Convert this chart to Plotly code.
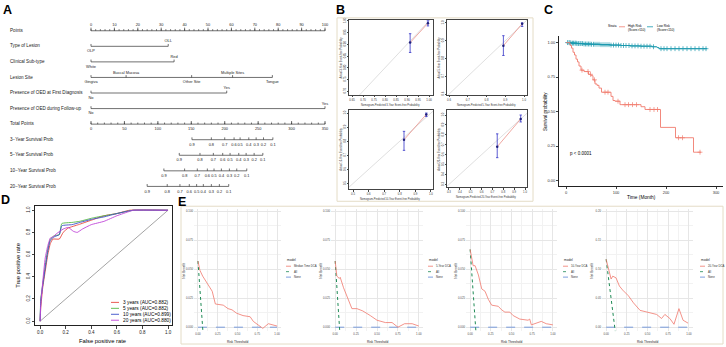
import plotly.graph_objects as go

W, H = 726, 347
FONT = "Liberation Sans, Arial, Helvetica, sans-serif"

# ======================= DATA =======================
# ---- Panel A : nomogram ----
nomo_row_labels = ["Points", "Type of Lesion", "Clinical Sub-type", "Lesion Site",
                   "Presence of OED at First Diagnosis", "Presence of OED during Follow-up",
                   "Total Points", "3−Year Survival Prob", "5−Year Survival Prob",
                   "10−Year Survival Prob", "20−Year Survival Prob"]
points_ticks = [0, 10, 20, 30, 40, 50, 60, 70, 80, 90, 100]
points_minor = [0, 2, 4, 6, 8, 10, 12, 14, 16, 18, 20, 22, 24, 26, 28, 30, 32, 34, 36, 38, 40,
                42, 44, 46, 48, 50, 52, 54, 56, 58, 60, 62, 64, 66, 68, 70, 72, 74, 76, 78, 80,
                82, 84, 86, 88, 90, 92, 94, 96, 98, 100]
lesion_type_levels = ["OLP", "OLL"]
lesion_type_points = [0, 33]
subtype_levels = ["White", "Red"]
subtype_points = [0, 35.5]
site_levels = ["Gingiva", "Buccal Mucosa", "Other Site", "Multiple Sites", "Tongue"]
site_points = [0, 15, 43, 60.5, 77.5]
oed_first_levels = ["No", "Yes"]
oed_first_points = [0, 58]
oed_follow_levels = ["No", "Yes"]
oed_follow_points = [0, 100]
total_points_ticks = [0, 50, 100, 150, 200, 250, 300, 350]
total_points_minor = [0, 10, 20, 30, 40, 50, 60, 70, 80, 90, 100, 110, 120, 130, 140, 150, 160,
                      170, 180, 190, 200, 210, 220, 230, 240, 250, 260, 270, 280, 290, 300, 310,
                      320, 330, 340, 350]
surv_prob_labels = ["0.9", "0.8", "0.7", "0.6", "0.5", "0.4", "0.3", "0.2", "0.1"]
surv3_total_points = [151, 180, 200, 214, 223, 236, 247, 258, 272]
surv5_total_points = [132, 163, 183, 197, 208, 221, 232, 244, 257]
surv10_total_points = [109, 140, 159, 174, 184, 195, 207, 218, 233]
surv20_total_points = [84, 114, 133, 147, 158, 168, 180, 192, 206]

# ---- Panel B : calibration ----
cal_years = ["3", "5", "10", "20"]
cal3_pred, cal3_obs, cal3_lo, cal3_hi = [0.914, 0.995], [0.907, 0.99], [0.865, 0.978], [0.945, 1.0]
cal5_pred, cal5_obs, cal5_lo, cal5_hi = [0.89, 0.99], [0.872, 0.995], [0.817, 0.98], [0.928, 1.0]
cal10_pred, cal10_obs, cal10_lo, cal10_hi = [0.827, 0.97], [0.81, 0.99], [0.735, 0.975], [0.87, 1.0]
cal20_pred, cal20_obs, cal20_lo, cal20_hi = [0.744, 0.96], [0.68, 0.96], [0.57, 0.93], [0.81, 1.0]
cal3_ticks = [0.65, 0.70, 0.75, 0.80, 0.85, 0.90, 0.95, 1.00]
cal5_ticks = [0.6, 0.7, 0.8, 0.9, 1.0]
cal10_ticks = [0.5, 0.6, 0.7, 0.8, 0.9, 1.0]
cal20_ticks = [0.3, 0.4, 0.5, 0.6, 0.7, 0.8, 0.9, 1.0]

# ---- Panel C : Kaplan-Meier ----
high_t = [0, 8, 11, 14, 17, 20, 23, 26, 30, 36, 45, 50, 54, 58, 62, 66, 71, 90, 94, 98, 108,
          150, 158, 189, 219, 255, 270]
high_s = [1.0, 0.98, 0.96, 0.93, 0.91, 0.88, 0.86, 0.83, 0.80, 0.79, 0.77, 0.76, 0.73, 0.70,
          0.69, 0.67, 0.64, 0.61, 0.58, 0.575, 0.55, 0.535, 0.515, 0.385, 0.31, 0.205, 0.205]
high_censor = [32, 44, 49, 57, 78, 84, 104, 118, 125, 133, 141, 168, 176, 183, 225, 233, 268]
low_t = [0, 10, 22, 35, 50, 68, 88, 110, 128, 150, 172, 182, 186, 282]
low_s = [1.0, 0.996, 0.993, 0.99, 0.988, 0.985, 0.982, 0.979, 0.976, 0.974, 0.97, 0.964,
         0.956, 0.956]
low_censor = [3, 6, 8, 10, 13, 15, 18, 20, 22, 25, 28, 30, 33, 36, 39, 42, 45, 48, 51, 55, 58,
              62, 66, 70, 74, 78, 82, 86, 90, 95, 100, 105, 110, 115, 120, 126, 132, 138, 144,
              150, 156, 162, 168, 175, 190, 196, 202, 210, 218, 226, 234, 242, 250, 258, 266,
              274, 280]
strata_labels = ["High Risk", "Low Risk"]
strata_sub = ["(Score>110)", "(Score<110)"]

# ---- Panel D : ROC ----
roc_labels = ["3 years (AUC=0.882)", "5 years (AUC=0.882)", "10 years (AUC=0.899)",
              "20 years (AUC=0.880)"]
roc3_fpr = [0, 0.005, 0.02, 0.04, 0.06, 0.08, 0.10, 0.15, 0.18, 0.22, 0.30, 0.40, 0.50, 0.60, 0.70, 1.0]
roc3_tpr = [0, 0.12, 0.30, 0.45, 0.60, 0.70, 0.74, 0.74, 0.80, 0.84, 0.87, 0.91, 0.95, 0.97, 1.0, 1.0]
roc5_fpr = [0, 0.005, 0.02, 0.04, 0.06, 0.08, 0.11, 0.15, 0.17, 0.25, 0.31, 0.41, 0.50, 0.60, 0.68, 0.73, 1.0]
roc5_tpr = [0, 0.20, 0.33, 0.50, 0.65, 0.74, 0.77, 0.78, 0.88, 0.89, 0.90, 0.93, 0.95, 0.97, 0.99, 1.0, 1.0]
roc10_fpr = [0, 0.005, 0.02, 0.04, 0.06, 0.08, 0.11, 0.15, 0.17, 0.25, 0.31, 0.41, 0.50, 0.60, 0.68, 0.73, 1.0]
roc10_tpr = [0, 0.18, 0.32, 0.48, 0.63, 0.73, 0.76, 0.78, 0.86, 0.87, 0.89, 0.92, 0.94, 0.97, 0.99, 1.0, 1.0]
roc20_fpr = [0, 0.005, 0.02, 0.04, 0.06, 0.08, 0.10, 0.13, 0.18, 0.22, 0.26, 0.29, 0.33, 0.40, 0.50, 0.60, 0.70, 0.73, 1.0]
roc20_tpr = [0, 0.15, 0.35, 0.57, 0.68, 0.75, 0.76, 0.79, 0.83, 0.845, 0.81, 0.80, 0.83, 0.87, 0.90, 0.95, 0.99, 1.0, 1.0]

# ---- Panel E : decision curves ----
dca_labels = ["Median Time DCA", "5-Year DCA", "10-Year DCA", "20-Year DCA"]
dca1_thr = [0, 0.025, 0.06, 0.11, 0.18, 0.22, 0.28, 0.32, 0.38, 0.43, 0.49, 0.57, 0.66, 0.70, 0.76, 0.82, 0.89, 0.97, 1.0]
dca1_nb = [0.057, 0.049, 0.044, 0.039, 0.031, 0.020, 0.019, 0.019, 0.016, 0.015, 0.012, 0.010, 0.009, 0.005, 0.002, -0.001, 0.003, 0.002, 0.001]
dca2_thr = [0, 0.02, 0.05, 0.06, 0.10, 0.14, 0.20, 0.26, 0.33, 0.42, 0.50, 0.60, 0.68, 0.75, 0.83, 0.92, 1.0]
dca2_nb = [0.057, 0.044, 0.042, 0.043, 0.034, 0.027, 0.016, 0.016, 0.014, 0.010, 0.006, 0.004, 0.004, 0.0, 0.003, 0.003, 0.001]
dca3_thr = [0, 0.036, 0.06, 0.10, 0.14, 0.18, 0.22, 0.26, 0.34, 0.38, 0.42, 0.48, 0.52, 0.60, 0.70, 0.72, 0.74, 0.78, 0.86, 0.92, 1.0]
dca3_nb = [0.067, 0.053, 0.053, 0.045, 0.033, 0.031, 0.024, 0.019, 0.018, 0.015, 0.013, 0.013, 0.010, 0.007, 0.006, 0.007, 0.002, 0.003, 0.005, 0.003, 0.002]
dca4_thr = [0, 0.03, 0.06, 0.08, 0.12, 0.16, 0.20, 0.27, 0.33, 0.41, 0.51, 0.61, 0.67, 0.71, 0.77, 0.82, 0.88, 0.93, 0.99]
dca4_nb = [0.117, 0.10, 0.083, 0.088, 0.085, 0.071, 0.064, 0.054, 0.042, 0.029, 0.025, 0.022, 0.015, 0.022, 0.015, 0.005, 0.032, 0.012, 0.007]
dca_all_thr = [[0, 0.063], [0, 0.055], [0, 0.07], [0, 0.11]]
dca_all_nb = [[0.057, -0.004], [0.057, -0.004], [0.067, -0.004], [0.117, -0.007]]
dca_none_thr = [0, 1]
dca_none_nb = [0, 0]

# ======================= HELPERS =======================
def dom_x(a, b):
    return [a / W, b / W]

def dom_y(top, bottom):
    return [1 - bottom / H, 1 - top / H]

annotations, shapes = [], []

def ann(text, xp, yp, size, xanchor="center", yanchor="middle", angle=0, color="black"):
    annotations.append(dict(text=text, x=xp / W, y=1 - yp / H, xref="paper", yref="paper",
                            showarrow=False, xanchor=xanchor, yanchor=yanchor, textangle=angle,
                            borderpad=0, font=dict(size=size, color=color, family=FONT)))

def pline(x0, y0, x1, y1, color, width=1, dash="solid"):
    shapes.append(dict(type="line", xref="paper", yref="paper", x0=x0 / W, x1=x1 / W,
                       y0=1 - y0 / H, y1=1 - y1 / H, line=dict(color=color, width=width, dash=dash)))

fig = go.Figure()
layout = dict(width=W, height=H, margin=dict(l=0, r=0, t=0, b=0), paper_bgcolor="white",
              plot_bgcolor="white", showlegend=False, font=dict(family=FONT))

# ======================= PANEL A =======================
layout["xaxis"] = dict(domain=dom_x(0, 335), range=[-38.89, 104.27], visible=False)
layout["yaxis"] = dict(domain=dom_y(0, 200), range=[10.955, -1.783], visible=False)
NC = "#333333"
lx, ly = [], []

def seg(x0, x1, y0, y1):
    lx.extend([x0, x1, None]); ly.extend([y0, y1, None])

txt_x, txt_y, txt_t = [], [], []
def tlab(x, y, t):
    txt_x.append(x); txt_y.append(y); txt_t.append(t)

rx, ry = [], []
for i, lab in enumerate(nomo_row_labels):
    rx.append(-34.6); ry.append(i)
fig.add_trace(go.Scatter(x=rx, y=ry, text=nomo_row_labels, mode="text", textposition="middle right",
                         textfont=dict(size=4.6, color="#222"), xaxis="x", yaxis="y", hoverinfo="skip"))
seg(points_ticks[0], points_ticks[-1], 0, 0)
for v in points_minor:
    seg(v, v, 0, -0.1)
for v in points_ticks:
    seg(v, v, 0, -0.2)
    tlab(v, -0.36, str(v))
cat_rows = [(1, lesion_type_levels, lesion_type_points), (2, subtype_levels, subtype_points),
            (3, site_levels, site_points), (4, oed_first_levels, oed_first_points),
            (5, oed_follow_levels, oed_follow_points)]
for row, levs, pts in cat_rows:
    seg(min(pts), max(pts), row, row)
    for k, (lv, p) in enumerate(zip(levs, pts)):
        seg(p, p, row, row - 0.15)
        tlab(p, row + (0.31 if k % 2 == 0 else -0.31), lv)
sc = 100 / 350
seg(0, 350 * sc, 6, 6)
for v in total_points_minor:
    seg(v * sc, v * sc, 6, 5.9)
for v in total_points_ticks:
    seg(v * sc, v * sc, 6, 5.8)
    tlab(v * sc, 6.33, str(v))
for row, tp in [(7, surv3_total_points), (8, surv5_total_points), (9, surv10_total_points),
                (10, surv20_total_points)]:
    xs = [v * sc for v in tp]
    seg(min(xs), max(xs), row, row)
    for x, lab in zip(xs, surv_prob_labels):
        seg(x, x, row, row - 0.15)
        tlab(x, row + 0.33, lab)
fig.add_trace(go.Scatter(x=lx, y=ly, mode="lines", line=dict(color=NC, width=0.7),
                         xaxis="x", yaxis="y", hoverinfo="skip"))
fig.add_trace(go.Scatter(x=txt_x, y=txt_y, text=txt_t, mode="text", textposition="middle center",
                         textfont=dict(size=3.9, color="#222"), xaxis="x", yaxis="y", hoverinfo="skip"))

# ======================= PANEL B =======================
cal_sets = [(cal3_pred, cal3_obs, cal3_lo, cal3_hi, cal3_ticks),
            (cal5_pred, cal5_obs, cal5_lo, cal5_hi, cal5_ticks),
            (cal10_pred, cal10_obs, cal10_lo, cal10_hi, cal10_ticks),
            (cal20_pred, cal20_obs, cal20_lo, cal20_hi, cal20_ticks)]
cal_boxes = [(349, 433, 17, 93), (447, 527, 17, 93), (349, 433, 108, 188), (447, 527, 108, 186)]
cal_xr = [[0.636, 1.018], [0.589, 1.016], [0.474, 1.013], [0.282, 1.018]]
cal_yr = [[0.683, 1.004], [0.594, 1.017], [0.458, 1.021], [0.27, 1.05]]
for k, (pred, obs, lo, hi, ticks) in enumerate(cal_sets):
    n = k + 2
    x0, x1, y0, y1 = cal_boxes[k]
    ax = dict(showline=True, mirror=True, linecolor="#444", linewidth=0.5, ticks="outside",
              ticklen=1.5, tickwidth=0.4, tickcolor="#444", showgrid=False, zeroline=False,
              tickfont=dict(size=2.8, color="#333"))
    layout["xaxis%d" % n] = dict(ax, domain=dom_x(x0, x1), range=cal_xr[k], anchor="y%d" % n,
                                 tickvals=ticks, tickformat=".2f" if k == 0 else ".1f")
    layout["yaxis%d" % n] = dict(ax, domain=dom_y(y0, y1), range=cal_yr[k], anchor="x%d" % n,
                                 tickvals=[t for t in ticks if t >= cal_yr[k][0]],
                                 tickformat=".2f" if k == 0 else ".1f", tickangle=-90)
    fig.add_trace(go.Scatter(x=[0, 1.05], y=[0, 1.05], mode="lines",
                             line=dict(color="#C9C9C9", width=0.6),
                             xaxis="x%d" % n, yaxis="y%d" % n, hoverinfo="skip"))
    fig.add_trace(go.Scatter(x=pred, y=obs, mode="lines+markers",
                             line=dict(color="#E8837A", width=0.7),
                             marker=dict(size=2.5, color="#1E1E7A"),
                             error_y=dict(type="data", symmetric=False,
                                          array=[h - o for h, o in zip(hi, obs)],
                                          arrayminus=[o - l for o, l in zip(obs, lo)],
                                          color="#3434C8", thickness=0.8, width=1.2),
                             xaxis="x%d" % n, yaxis="y%d" % n, hoverinfo="skip"))
    yr = cal_years[k]
    ann("Nomogram-Predicted %s-Year Event-free Probability" % yr, (x0 + x1) / 2, y1 + 10, 2.6, color="#333")
    ann("Actual %s-Year Event-free Probability" % yr, x0 - 8, (y0 + y1) / 2, 2.6, angle=-90, color="#333")

# ======================= PANEL C =======================
RED_KM, TEAL = "#F07C6E", "#1898AE"
layout["xaxis6"] = dict(domain=dom_x(559, 723), range=[-14, 314], anchor="y6", tickvals=[0, 100, 200, 300],
                        showline=True, linecolor="#222", linewidth=0.8, ticks="outside", ticklen=2,
                        tickwidth=0.6, tickfont=dict(size=4, color="#333"), showgrid=False, zeroline=False)
layout["yaxis6"] = dict(domain=dom_y(33, 185), range=[-0.043, 1.05], anchor="x6",
                        tickvals=[0, 0.25, 0.5, 0.75, 1.0], tickformat=".2f",
                        showline=True, linecolor="#222", linewidth=0.8, ticks="outside", ticklen=2,
                        tickwidth=0.6, tickfont=dict(size=4, color="#333"), showgrid=False, zeroline=False)

def step_at(ts, ss, t):
    s = ss[0]
    for ti, si in zip(ts, ss):
        if ti <= t:
            s = si
    return s

for ts, ss, cens, col in [(low_t, low_s, low_censor, TEAL), (high_t, high_s, high_censor, RED_KM)]:
    fig.add_trace(go.Scatter(x=ts, y=ss, mode="lines", line=dict(color=col, width=0.9, shape="hv"),
                             xaxis="x6", yaxis="y6", hoverinfo="skip"))
    fig.add_trace(go.Scatter(x=cens, y=[step_at(ts, ss, c) for c in cens], mode="markers",
                             marker=dict(symbol="cross-thin", size=3.5, line=dict(width=0.7, color=col)),
                             xaxis="x6", yaxis="y6", hoverinfo="skip"))
ann("p < 0.0001", 569, 152, 4.5, xanchor="left")
ann("Survival probability", 545, 110, 4.6, angle=-90)
ann("Time (Month)", 641, 196, 4.8)
ann("Strata", 612, 23, 3.2)
pline(619, 24, 625, 24, RED_KM, 0.8)
pline(647, 24, 653, 24, TEAL, 0.8)
ann(strata_labels[0], 627, 23, 3.2, xanchor="left")
ann(strata_sub[0], 627, 27.5, 3.2, xanchor="left")
ann(strata_labels[1], 656, 23, 3.2, xanchor="left")
ann(strata_sub[1], 656, 27.5, 3.2, xanchor="left")

# ======================= PANEL D =======================
roc_cols = ["#E8483F", "#55B845", "#3A4FC8", "#C044D8"]
dax = dict(showline=True, mirror=True, linecolor="#222", linewidth=0.7, ticks="outside", ticklen=2.5,
           tickwidth=0.6, tickfont=dict(size=4.5, color="#222"), showgrid=False, zeroline=False,
           tickvals=[0, 0.2, 0.4, 0.6, 0.8, 1.0], tickformat=".1f")
layout["xaxis7"] = dict(dax, domain=dom_x(35, 172), range=[-0.04, 1.031], anchor="y7")
layout["yaxis7"] = dict(dax, domain=dom_y(205, 325), range=[-0.036, 1.036], anchor="x7", tickangle=-90)
fig.add_trace(go.Scatter(x=[0, 1], y=[0, 1], mode="lines", line=dict(color="#666", width=0.6),
                         xaxis="x7", yaxis="y7", hoverinfo="skip"))
for fpr, tpr, col in [(roc3_fpr, roc3_tpr, roc_cols[0]), (roc5_fpr, roc5_tpr, roc_cols[1]),
                      (roc10_fpr, roc10_tpr, roc_cols[2]), (roc20_fpr, roc20_tpr, roc_cols[3])]:
    fig.add_trace(go.Scatter(x=fpr, y=tpr, mode="lines", line=dict(color=col, width=0.9, shape="spline", smoothing=0.4),
                             xaxis="x7", yaxis="y7", hoverinfo="skip"))
for k, lab in enumerate(roc_labels):
    yy = 302 + 6 * k
    pline(111, yy, 119, yy, roc_cols[k], 0.9)
    ann(lab, 122, yy, 4.8, xanchor="left")
ann("True positive rate", 18, 265, 5.8, angle=-90)
ann("False positive rate", 103, 341, 5.8)

# ======================= PANEL E =======================
dca_sets = [(dca1_thr, dca1_nb), (dca2_thr, dca2_nb), (dca3_thr, dca3_nb), (dca4_thr, dca4_nb)]
e_xdom = [(194, 281), (331, 423), (466, 557), (602, 693)]
e_leg_x = [286, 428, 563, 700]
DRED, DGREEN, DBLUE = "#F0776C", "#1E8A55", "#5A86D6"
for k, (thr, nb) in enumerate(dca_sets):
    n = k + 8
    big = k == 3
    yr = [-0.0068, 0.2034] if big else [-0.0034, 0.1017]
    eax = dict(showline=False, zeroline=False, ticks="", showgrid=True, gridcolor="#E6E6E6",
               gridwidth=0.6, tickfont=dict(size=2.8, color="#4D4D4D"))
    layout["xaxis%d" % n] = dict(eax, domain=dom_x(*e_xdom[k]), range=[-0.05, 1.05], anchor="y%d" % n,
                                 tick0=0, dtick=0.25, tickformat=".2f",
                                 minor=dict(showgrid=True, gridcolor="#F2F2F2", gridwidth=0.4, dtick=0.125))
    layout["yaxis%d" % n] = dict(eax, domain=dom_y(208, 331), range=yr, anchor="x%d" % n,
                                 tick0=0, dtick=0.05 if big else 0.025,
                                 tickformat=".2f" if big else ".3f",
                                 minor=dict(showgrid=True, gridcolor="#F2F2F2", gridwidth=0.4,
                                            dtick=0.025 if big else 0.0125))
    fig.add_trace(go.Scatter(x=dca_none_thr, y=dca_none_nb, mode="lines",
                             line=dict(color=DBLUE, width=0.8, dash="dash"),
                             xaxis="x%d" % n, yaxis="y%d" % n, hoverinfo="skip"))
    fig.add_trace(go.Scatter(x=dca_all_thr[k], y=dca_all_nb[k], mode="lines",
                             line=dict(color=DGREEN, width=1, dash="dot"),
                             xaxis="x%d" % n, yaxis="y%d" % n, hoverinfo="skip"))
    fig.add_trace(go.Scatter(x=thr, y=nb, mode="lines", line=dict(color=DRED, width=0.8),
                             xaxis="x%d" % n, yaxis="y%d" % n, hoverinfo="skip"))
    xa, xb = e_xdom[k]
    ann("Risk Threshold", (xa + xb) / 2, 342, 3.2, color="#222")
    ann("Net Benefit", xa - 10, 270, 3.2, angle=-90, color="#222")
    lxp = e_leg_x[k]
    ann("model", lxp, 259, 3.2, xanchor="left", color="#222")
    for j, (lab, col, dash) in enumerate([(dca_labels[k], DRED, "solid"), ("All", DGREEN, "dot"),
                                           ("None", DBLUE, "dash")]):
        yy = 265.5 + 5.5 * j
        pline(lxp, yy, lxp + 5, yy, col, 0.8, dash)
        ann(lab, lxp + 7, yy, 2.8, xanchor="left", color="#333")

BEIGE = "#E4DCC6"
shapes.append(dict(type="rect", xref="paper", yref="paper", x0=337 / W, x1=533 / W,
                   y0=1 - 200 / H, y1=1 - 15 / H, line=dict(color=BEIGE, width=1)))
shapes.append(dict(type="rect", xref="paper", yref="paper", x0=181 / W, x1=723 / W,
                   y0=1 - 344 / H, y1=1 - 205 / H, line=dict(color=BEIGE, width=1)))

for L, xp, yp in [("A", 2, 7), ("B", 335, 7.5), ("C", 543, 7.5), ("D", 0, 199), ("E", 177, 201)]:
    ann("<b>%s</b>" % L, xp, yp, 12.5, xanchor="left")

layout["annotations"] = annotations
layout["shapes"] = shapes
fig.update_layout(**layout)
fig.write_html("out.html", config={"displayModeBar": False},
               post_script="document.body.style.margin='0';document.body.style.overflow='hidden';")
